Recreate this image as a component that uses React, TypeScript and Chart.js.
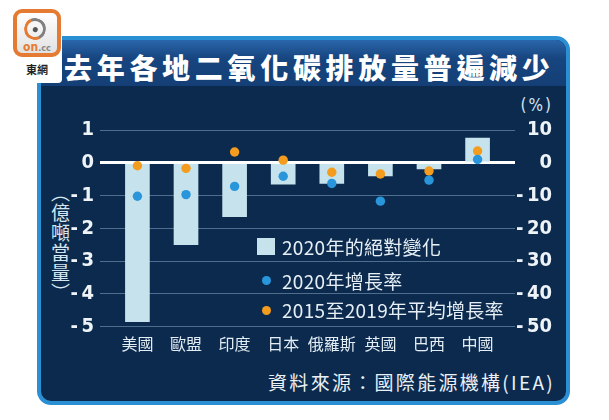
import React, { useEffect, useRef } from 'react';
import { Chart, registerables } from 'chart.js';

Chart.register(...registerables);

// ---- data ----
const categories = ['美國', '歐盟', '印度', '日本', '俄羅斯', '英國', '巴西', '中國'];
const absChange2020 = [-4.85, -2.5, -1.64, -0.65, -0.63, -0.4, -0.19, 0.75]; // 億噸當量
const growth2020 = [-10.2, -9.7, -7.2, -4.1, -6.3, -11.7, -5.3, 1.0]; // %
const avgGrowth2015to2019 = [-0.9, -1.7, 3.3, 0.8, -2.9, -3.4, -2.5, 3.6]; // %
const seriesNames = ['2020年的絕對變化', '2020年增長率', '2015至2019年平均增長率'];
const title = '去年各地二氧化碳排放量普遍減少';
const leftAxisTitle = '（億噸當量）';
const rightAxisUnit = '(%)';
const sourceText = '資料來源：國際能源機構(IEA)';

// ---- styles ----
const BAR = '#c6e2ec';
const BLUE = '#2996dc';
const ORANGE = '#f39c1e';
const NAVY = '#0c2a4e';
const GRID = '#4f6e8e';
const CJK = "'Noto Sans CJK TC', 'Noto Sans CJK SC', sans-serif";
const NUM = "'Liberation Sans Narrow', 'DejaVu Sans Condensed', 'Liberation Sans', sans-serif";

const fmtNeg = (v: number) => (v < 0 ? '-\u2009' + Math.abs(v) : String(v));

export default function App() {
  const ref = useRef<HTMLCanvasElement | null>(null);

  useEffect(() => {
    if (!ref.current) return;
    const chart = new Chart(ref.current, {
      type: 'bar',
      data: {
        datasets: [
          {
            type: 'bar',
            label: seriesNames[0],
            data: absChange2020.map((y, i) => ({ x: i, y })),
            backgroundColor: BAR,
            borderWidth: 0,
            barThickness: 24,
            yAxisID: 'y',
            order: 3,
          } as any,
          {
            type: 'line',
            label: seriesNames[1],
            data: growth2020.map((y, i) => ({ x: i, y })),
            showLine: false,
            pointRadius: 4.7,
            pointBorderWidth: 0,
            pointBackgroundColor: BLUE,
            yAxisID: 'y2',
            order: 1,
          } as any,
          {
            type: 'line',
            label: seriesNames[2],
            data: avgGrowth2015to2019.map((y, i) => ({ x: i, y })),
            showLine: false,
            pointRadius: 4.7,
            pointBorderWidth: 0,
            pointBackgroundColor: ORANGE,
            yAxisID: 'y2',
            order: 2,
          } as any,
        ],
      },
      options: {
        animation: false,
        responsive: false,
        maintainAspectRatio: false,
        layout: { padding: { top: 130, right: 57, left: 0, bottom: 0 } },
        plugins: { legend: { display: false }, tooltip: { enabled: false } },
        scales: {
          x: {
            type: 'linear',
            offset: false,
            min: -0.77,
            max: 7.77,
            grid: { display: false, drawTicks: false, offset: false },
            border: { display: false },
            ticks: {
              stepSize: 1,
              includeBounds: false,
              autoSkip: false,
              maxRotation: 0,
              padding: 8,
              color: '#e3edf4',
              font: { family: CJK, size: 16 },
              callback: (v: any) => (Number.isInteger(v) && categories[v] !== undefined ? categories[v] : ''),
            },
            afterFit: (s: any) => {
              s.height = 93.3;
            },
          } as any,
          y: {
            position: 'left',
            min: -5,
            max: 1,
            grid: {
              drawTicks: false,
              color: (c: any) => (c.tick && c.tick.value === 0 ? '#ffffff' : GRID),
              lineWidth: (c: any) => (c.tick && c.tick.value === 0 ? 3 : 1),
            },
            border: { display: false },
            ticks: {
              stepSize: 1,
              padding: 6,
              color: '#eef3f8',
              font: { family: NUM, size: 20, weight: 'bold' },
              callback: (v: any) => fmtNeg(v),
            },
            afterFit: (s: any) => {
              s.width = 100;
            },
          } as any,
          y2: {
            position: 'right',
            min: -50,
            max: 10,
            grid: { display: false, drawTicks: false },
            border: { display: false },
            ticks: {
              stepSize: 10,
              crossAlign: 'far',
              color: '#eef3f8',
              font: { family: NUM, size: 20, weight: 'bold' },
              callback: (v: any) => fmtNeg(v),
            },
            afterFit: (s: any) => {
              s.width = 37;
            },
          } as any,
        },
      },
    });
    return () => chart.destroy();
  }, []);

  const abs = (o: React.CSSProperties): React.CSSProperties => ({ position: 'absolute', ...o });
  const legendText: React.CSSProperties = { fontSize: 19, lineHeight: '23px', color: '#e6eff5', whiteSpace: 'nowrap', letterSpacing: 0.3 };

  return (
    <div style={{ position: 'relative', width: 609, height: 420, background: '#ffffff', overflow: 'hidden', fontFamily: CJK }}>
      <style>{`body{margin:0}`}</style>

      {/* panel */}
      <div
        style={abs({
          left: 37,
          top: 36,
          width: 525,
          height: 361,
          border: '4px solid #2b8fd3',
          borderRadius: 14,
          background: NAVY,
          overflow: 'hidden',
        })}
      >
        <div style={abs({ left: 0, top: 0, width: 525, height: 46, background: 'linear-gradient(#2a66ab, #17457f 40%, #143f76)' })} />
      </div>

      {/* white corner behind logo */}
      <div style={abs({ left: 0, top: 0, width: 62, height: 83, background: '#ffffff', borderBottomRightRadius: 4 })} />

      {/* logo */}
      <div
        style={abs({
          left: 13,
          top: 9,
          width: 40,
          height: 40,
          border: '4px solid #e57b32',
          borderRadius: 9,
          background: 'linear-gradient(#ffffff, #e2e2e2)',
        })}
      >
        <div
          style={abs({
            left: 7,
            top: 5,
            width: 16,
            height: 16,
            borderRadius: '50%',
            border: '3px solid #808080',
            borderLeftColor: '#e57b32',
            borderBottomColor: '#e57b32',
            transform: 'rotate(20deg)',
          })}
        >
          <div style={abs({ left: 5.5, top: 5.5, width: 5, height: 5, borderRadius: '50%', background: '#555' })} />
        </div>
        <div style={abs({ left: 0, top: 28, width: 40, textAlign: 'center', fontFamily: NUM, fontWeight: 'bold', fontSize: 12, lineHeight: '12px', whiteSpace: 'nowrap' })}>
          <span style={{ color: '#e57b32' }}>on</span>
          <span style={{ color: '#888', fontSize: 9 }}>.cc</span>
        </div>
      </div>
      <div style={abs({ left: 26, top: 62, fontSize: 11, lineHeight: '14px', fontWeight: 'bold', color: '#222' })}>東網</div>

      {/* title */}
      <div
        style={abs({
          left: 64,
          top: 52,
          fontSize: 28,
          lineHeight: '30px',
          fontWeight: 900,
          color: '#ffffff',
          letterSpacing: 4.7,
          whiteSpace: 'nowrap',
        })}
      >
        {title}
      </div>

      {/* right unit */}
      <div style={abs({ right: 56, top: 95, fontSize: 17, lineHeight: '20px', color: '#d3e3ef', letterSpacing: 2, fontFamily: NUM })}>
        {rightAxisUnit}
      </div>

      {/* left axis title */}
      <div
        style={abs({
          left: 50,
          top: 183,
          writingMode: 'vertical-rl',
          fontSize: 19,
          lineHeight: '20px',
          letterSpacing: 1,
          color: '#d3e6f1',
        })}
      >
        {leftAxisTitle}
      </div>

      {/* source */}
      <div style={abs({ right: 54, top: 370, fontSize: 19, lineHeight: '23px', letterSpacing: 2.3, color: '#eaf1f6', whiteSpace: 'nowrap' })}>
        {sourceText}
      </div>

      <canvas ref={ref} width={609} height={420} style={abs({ left: 0, top: 0, width: 609, height: 420 })} />

      {/* legend */}
      <div style={abs({ left: 257, top: 238, width: 18, height: 17, background: BAR })} />
      <div style={abs({ left: 282, top: 235, ...legendText })}>{seriesNames[0]}</div>
      <div style={abs({ left: 262, top: 275.5, width: 9, height: 9, borderRadius: '50%', background: BLUE })} />
      <div style={abs({ left: 282, top: 268.5, ...legendText })}>{seriesNames[1]}</div>
      <div style={abs({ left: 262, top: 305.5, width: 9, height: 9, borderRadius: '50%', background: ORANGE })} />
      <div style={abs({ left: 282, top: 298, ...legendText })}>{seriesNames[2]}</div>
    </div>
  );
}
